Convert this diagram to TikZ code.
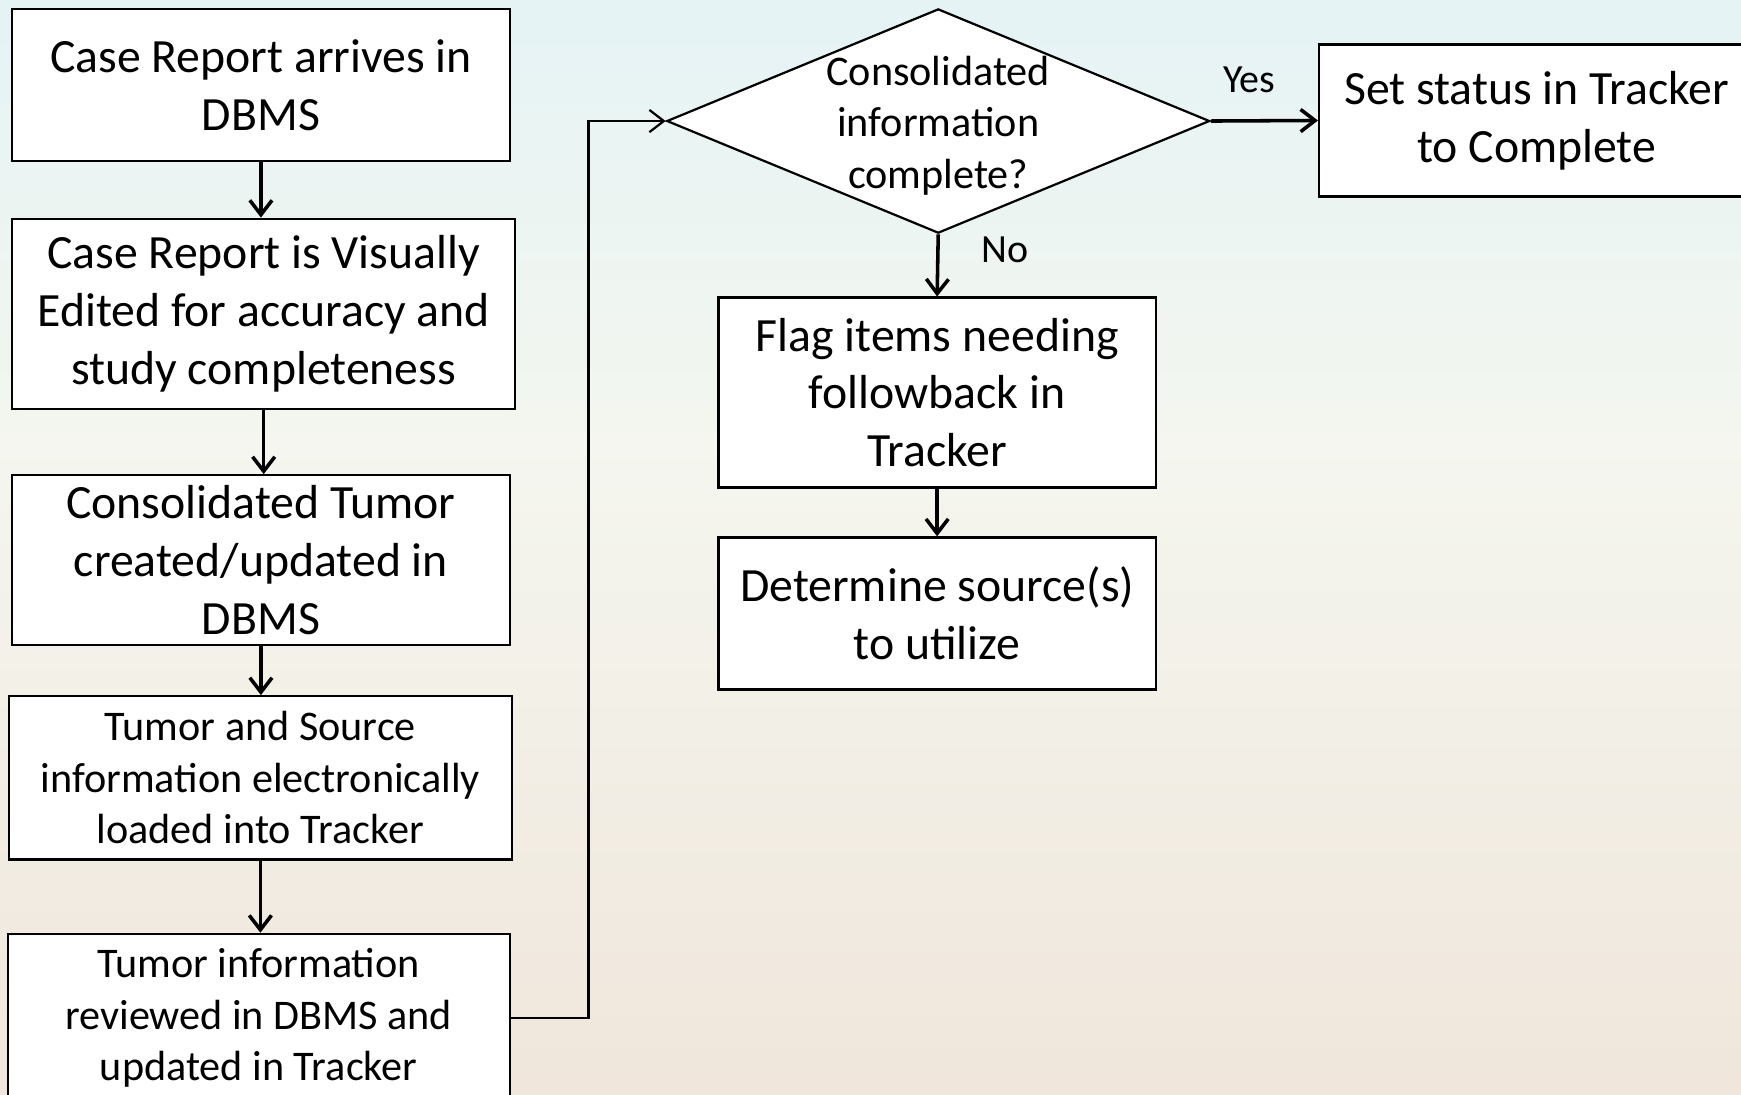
\documentclass[tikz,border=0pt]{standalone}
\usepackage{fontspec}
\setmainfont{Carlito}
\usetikzlibrary{arrows.meta,shapes.geometric}
\definecolor{bgtop}{HTML}{E5F3F5}
\definecolor{bgmid}{HTML}{F4F6EF}
\definecolor{bgbot}{HTML}{F0E6DB}
\newcommand\fbig{\fontsize{21.5}{26}\selectfont}
\newcommand\fsmall{\fontsize{19}{23.2}\selectfont}
\begin{document}
\begin{tikzpicture}[x=0.5pt,y=-0.5pt,
  box/.style={draw=black, line width=1pt, fill=white, align=center, inner sep=0pt, font=\fbig},
  sbox/.style={box, font=\fsmall},
  conn/.style={line width=1.6pt, -{Straight Barb[length=6.5pt,width=10pt,line width=1.6pt]}},
  thinconn/.style={line width=1pt, -{Straight Barb[length=6.5pt,width=10pt,line width=1pt]}},
  lbl/.style={font=\fontsize{18}{22}\selectfont, inner sep=0pt}]
\useasboundingbox (0,0) rectangle (1568,986);
\clip (0,0) rectangle (1568,986);
\fill[bgmid] (0,0) rectangle (1568,986);
\shade[top color=bgtop, bottom color=bgmid] (0,0) rectangle (1568,400);
\shade[top color=bgmid, bottom color=bgbot] (0,399) rectangle (1568,986);

\node[box, minimum width=224pt, minimum height=68.5pt] (b1) at (235,76.5) {Case Report arrives in\\DBMS};
\node[box, minimum width=226.5pt, minimum height=85.5pt] (b2) at (237.5,282.5) {Case Report is Visually\\Edited for accuracy and\\study completeness};
\node[box, minimum width=224pt, minimum height=76.5pt] (b3) at (235,504.5) {Consolidated Tumor\\created/updated in\\DBMS};
\node[sbox, minimum width=226.5pt, minimum height=73.5pt] (b4) at (234.5,700.5) {Tumor and Source\\information electronically\\loaded into Tracker};
\node[sbox, minimum width=226pt, minimum height=76pt] (b5) at (233,917) {Tumor information\\reviewed in DBMS and\\updated in Tracker};

\node[diamond, draw=black, line width=1pt, fill=white, minimum width=244.5pt, minimum height=101pt, inner sep=0pt] (dec) at (845,109) {};
\node[font=\fsmall, align=center, inner sep=0pt] (dtext) at (845,113) {Consolidated\\information\\complete?};

\node[box, minimum width=196pt, minimum height=68.5pt] (set) at (1384,108.5) {Set status in Tracker\\to Complete};
\node[box, minimum width=197pt, minimum height=85.5pt] (flag) at (844,353.5) {Flag items needing\\followback in\\Tracker};
\node[box, minimum width=197pt, minimum height=68.5pt] (det) at (844,552.5) {Determine source(s)\\to utilize};

\draw[conn] (b1.south) -- (b1.south |- b2.north);
\draw[conn] (b2.south) -- (b2.south |- b3.north);
\draw[conn] (b3.south) -- (b3.south |- b4.north);
\draw[conn] (b4.south) -- (b4.south |- b5.north);
\draw[thinconn] (b5.east) -- ++(70,0) |- (dec.west);
\draw[conn] (dec.east) -- (set.west) node[lbl, pos=0.36, above=12pt] {Yes};
\draw[conn] (dec.south) -- (flag.north) node[lbl, pos=0.25, right=19pt] {No};
\draw[conn] (flag.south) -- (det.north);
\end{tikzpicture}
\end{document}
